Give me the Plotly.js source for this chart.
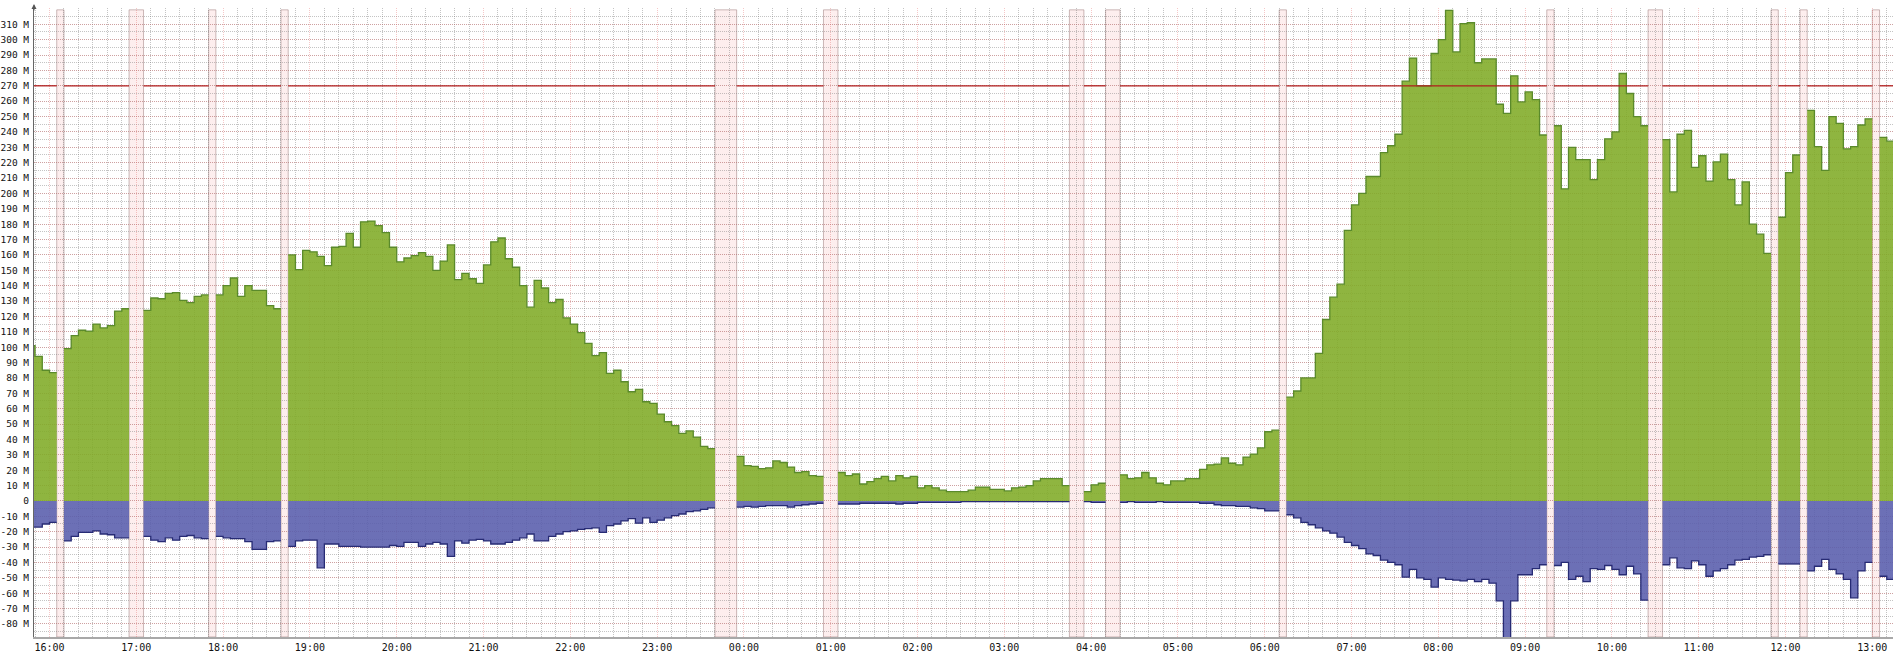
<!DOCTYPE html>
<html>
<head>
<meta charset="utf-8">
<script src="https://cdn.plot.ly/plotly-3.0.1.min.js"></script>
<style>
html,body{margin:0;padding:0;background:#ffffff;}
#chart{width:1893px;height:656px;}
</style>
</head>
<body>
<div id="chart"></div>
<script>
// ---- DATA (5-minute slots, first slot starts 15:45) ----
const firstSlot = Date.UTC(2024, 0, 1, 15, 45);
const slotMinutes = 5;

// inbound traffic, M (green), null = unknown
const inbound = [
  /*15:45*/ 101, 94, 85,
  /*16*/ 83.5, null, 99, 107.5, 111, 110.5, 115, 112.5, 114, 123.5, 125, null,
  /*17*/ null, 124, 132, 131.5, 135, 135.5, 130.5, 129, 133, 134, null, 134,
  /*18*/ 140, 145, 133, 140, 137, 137, 127, 125, null, 160, 150.5, 163,
  /*19*/ 162, 159, 153, 165, 165.5, 174, 165, 181.5, 182, 179, 174.5, 165,
  /*20*/ 155.5, 158, 159.5, 161.5, 159, 150, 156, 166.5, 144, 148, 144.5, 141.5,
  /*21*/ 153.5, 168.5, 171, 157.5, 152, 140, 126, 143.5, 138.5, 129, 131, 119,
  /*22*/ 115, 109.5, 102.5, 94.5, 96.5, 83, 85, 77.5, 71, 72.5, 64.5, 63.5,
  /*23*/ 56.5, 51.5, 49, 44, 45.5, 41.5, 35.5, 34, null, null, null, 29,
  /*00*/ 23, 22.5, 21, 21.5, 26, 25, 22, 18.5, 19, 16.5, 16, null,
  /*01*/ null, 18.5, 16.5, 17.5, 11, 12.5, 14.5, 16, 13, 16.5, 15, 16,
  /*02*/ 8.5, 10, 8.5, 7, 6, 6, 6, 7, 9, 9, 7.5, 7.5,
  /*03*/ 6.5, 8.5, 9, 10, 13, 14.5, 14.5, 14.5, 10, null, null, 6,
  /*04*/ 10.5, 11.5, null, null, 17, 14.5, 15, 18.5, 15, 11.5, 10.5, 13,
  /*05*/ 13, 14.5, 14.5, 20.5, 23.5, 24, 28, 24.5, 23.5, 28.5, 30.5, 34.5,
  /*06*/ 45, 46, null, 67.5, 71.5, 80, 80, 96, 118, 132.5, 141, 176,
  /*07*/ 192.5, 200, 211, 211, 226.5, 231, 238.5, 273, 288, 270, 270, 291,
  /*08*/ 300, 319, 292, 310.5, 311, 285, 287.5, 287.5, 258, 252, 276.5, 259.5,
  /*09*/ 266, 261, 238, null, 244, 203, 230, 222, 222, 209, 222, 235.5,
  /*10*/ 240, 278, 265, 250, 244, null, null, 235, 201, 238.5, 241, 217,
  /*11*/ 224.5, 208, 220.5, 225.5, 209, 192.5, 207.5, 180, 173.5, 161, null, 184.5,
  /*12*/ 213.5, 225, null, 254, 230.5, 215, 250, 245.5, 229, 230.5, 244.5, 248.5,
  /*13*/ null, 236.5, 234
];

// outbound traffic, M (blue, drawn negative), null = unknown
const outbound = [
  /*15:45*/ -17, -17, -15,
  /*16*/ -14, null, -26, -23, -20.5, -20.5, -19.5, -21.5, -22, -24, -24, null,
  /*17*/ null, -23, -25.5, -26.5, -24, -25.5, -23, -22.5, -24, -24.5, null, -23,
  /*18*/ -24, -24.5, -24.5, -26.5, -31.5, -31.5, -26.5, -26, null, -29.5, -26, -25.5,
  /*19*/ -25.5, -43.5, -28, -28, -29.5, -29.5, -29.5, -30, -30, -30, -30, -29,
  /*20*/ -29.5, -27, -27, -29.5, -28, -27, -28, -36, -26, -27.5, -25.5, -25,
  /*21*/ -26, -28, -28, -27, -25.5, -24, -21.5, -26, -26, -23, -21.5, -20,
  /*22*/ -19.5, -18.5, -18, -17.5, -20.5, -16, -15, -13, -11.5, -14.5, -11, -14,
  /*23*/ -12.5, -11, -9.5, -8.5, -7, -6.5, -5.5, -4.5, null, null, null, -4,
  /*00*/ -3.5, -4, -3.5, -3, -3, -3, -4, -3, -2.5, -2, -1.5, null,
  /*01*/ null, -2, -2, -2, -1.5, -1.5, -1.5, -1.5, -1.5, -2, -1.5, -1.5,
  /*02*/ -1, -1, -1, -1, -1, -1, -0.5, -0.5, -0.5, -0.5, -0.5, -0.5,
  /*03*/ -0.5, -0.5, -0.5, -0.5, -0.5, -0.5, -0.5, -0.5, -0.5, null, null, -0.5,
  /*04*/ -1, -1, null, null, -1, -0.5, -1, -1, -1, -0.5, -1, -1,
  /*05*/ -1, -1, -1, -1.5, -1.5, -2.5, -3, -3, -3.5, -3.5, -4.5, -5,
  /*06*/ -6.5, -6.5, null, -9, -11, -14, -15.5, -17.5, -19.5, -21, -23.5, -27,
  /*07*/ -29, -31, -34.5, -35.5, -38.5, -40, -41.5, -49.5, -44.5, -50, -51, -56,
  /*08*/ -50, -51, -51.5, -52, -51, -52.5, -51, -53.5, -65, -90, -65, -48,
  /*09*/ -48, -44, -41.5, null, -42, -40, -51, -49, -52.5, -44, -44.5, -42,
  /*10*/ -44.5, -48, -42.5, -47.5, -64.5, null, null, -41.5, -37, -43.5, -44, -39,
  /*11*/ -41.5, -49, -45.5, -44, -41.5, -38.5, -38, -36.5, -36, -35, null, -41,
  /*12*/ -41, -41, null, -45.5, -42.5, -38, -44.5, -47.5, -51, -63, -45.5, -40,
  /*13*/ null, -49, -51
];

const thresholdValue = 270;
const yTickValues = [-80, -70, -60, -50, -40, -30, -20, -10, 0, 10, 20, 30, 40, 50, 60, 70, 80, 90,
  100, 110, 120, 130, 140, 150, 160, 170, 180, 190, 200, 210, 220, 230, 240, 250, 260, 270,
  280, 290, 300, 310];
const yTickLabels = yTickValues.map(v => v === 0 ? '0' : v + ' M');

// ---- helpers ----
function slotTime(i) {
  const d = new Date(firstSlot + i * slotMinutes * 60000);
  return d.toISOString().slice(0, 19).replace('T', ' ');
}
// contiguous known runs -> step outlines
function stepSegments(vals) {
  const segs = [];
  let cur = null;
  vals.forEach((v, i) => {
    if (v === null) { cur = null; return; }
    if (!cur) { cur = { xs: [], ys: [] }; segs.push(cur); }
    cur.xs.push(slotTime(i), slotTime(i + 1));
    cur.ys.push(v, v);
  });
  return segs;
}

const Y_MIN = -88.5, Y_MAX = 320.6, BAND_TOP = 319.4;

// unknown-data bands from null runs
const shapes = [];
let runStart = -1;
for (let i = 0; i <= inbound.length; i++) {
  const isNull = i < inbound.length && inbound[i] === null;
  if (isNull && runStart < 0) runStart = i;
  if (!isNull && runStart >= 0) {
    shapes.push({
      type: 'rect', layer: 'below', xref: 'x', yref: 'y',
      x0: slotTime(runStart), x1: slotTime(i), y0: Y_MIN, y1: BAND_TOP,
      fillcolor: '#fdeeee', line: { color: 'rgba(160,130,130,0.55)', width: 1 }
    });
    runStart = -1;
  }
}

const traces = [];
stepSegments(inbound).forEach(s => traces.push({
  x: s.xs, y: s.ys, type: 'scatter', mode: 'lines',
  line: { color: '#5a8a2b', width: 1.3 },
  fill: 'tozeroy', fillcolor: 'rgba(128,171,38,0.88)',
  hoverinfo: 'skip', showlegend: false
}));
stepSegments(outbound).forEach(s => traces.push({
  x: s.xs, y: s.ys, type: 'scatter', mode: 'lines',
  line: { color: '#272b74', width: 1.3 },
  fill: 'tozeroy', fillcolor: 'rgba(88,92,172,0.88)',
  hoverinfo: 'skip', showlegend: false
}));
stepSegments(inbound.map(v => v === null ? null : thresholdValue)).forEach(s => traces.push({
  x: s.xs, y: s.ys, type: 'scatter', mode: 'lines',
  line: { color: '#b01e1e', width: 1.3 },
  hoverinfo: 'skip', showlegend: false
}));

const tickFont = { family: 'DejaVu Sans Mono, monospace', size: 9.5, color: '#111111' };
const minorGrid = 'rgba(115,115,115,0.42)';
const majorGrid = 'rgba(225,95,95,0.34)';

const layout = {
  width: 1893, height: 656,
  margin: { l: 34, r: 0, t: 8, b: 19, pad: 0 },
  paper_bgcolor: '#ffffff', plot_bgcolor: '#ffffff',
  showlegend: false,
  xaxis: {
    type: 'date',
    range: ['2024-01-01 15:49:17', '2024-01-02 13:14:18'],
    tickmode: 'linear', tick0: '2024-01-01 16:00:00', dtick: 3600000,
    tickformat: '%H:%M', tickfont: { family: 'DejaVu Sans Mono, monospace', size: 10, color: '#111111' },
    ticks: '', showgrid: true, gridcolor: majorGrid, griddash: '1px,1px', gridwidth: 1,
    minor: { tick0: '2024-01-01 16:00:00', dtick: 600000, showgrid: true,
             gridcolor: minorGrid, griddash: '1px,1px', gridwidth: 1, ticks: '' },
    showline: true, linecolor: '#a8a8a8', linewidth: 2,
    zeroline: false, fixedrange: true
  },
  yaxis: {
    range: [Y_MIN, Y_MAX],
    tickmode: 'array', tickvals: yTickValues, ticktext: yTickLabels,
    tickfont: tickFont, ticks: '', ticklabelstandoff: 2,
    showgrid: true, gridcolor: majorGrid, griddash: '1px,1px', gridwidth: 1,
    minor: { tickmode: 'linear', tick0: 0, dtick: 5, showgrid: true,
             gridcolor: minorGrid, griddash: '1px,1px', gridwidth: 1, ticks: '' },
    showline: true, linecolor: '#666666', linewidth: 1,
    zeroline: false, fixedrange: true
  },
  shapes: shapes,
  annotations: [{
    xref: 'paper', yref: 'paper', x: 0, y: 1, text: '',
    showarrow: true, ax: 0, ay: 8, arrowhead: 2, arrowsize: 1, arrowwidth: 1,
    arrowcolor: '#555555', yshift: 4
  }]
};

Plotly.newPlot('chart', traces, layout, { displayModeBar: false, staticPlot: true });
</script>
</body>
</html>
